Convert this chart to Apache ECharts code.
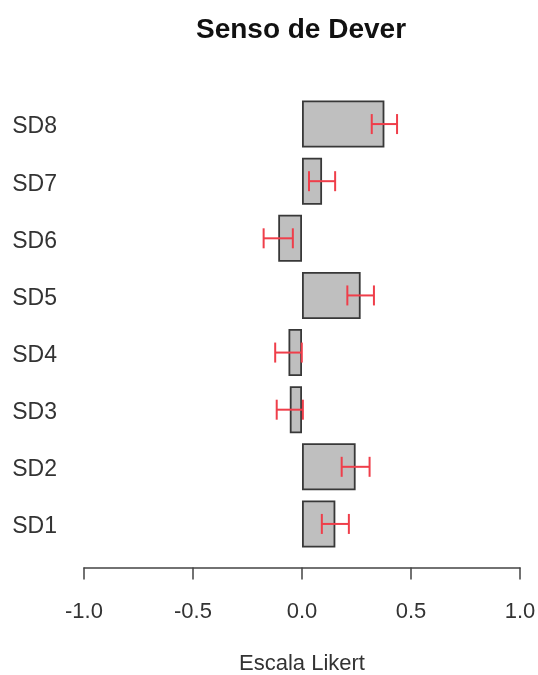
<!DOCTYPE html>
<html>
<head>
<meta charset="utf-8">
<title>Senso de Dever</title>
<script src="https://cdn.jsdelivr.net/npm/echarts@6/dist/echarts.min.js"></script>
<style>
  html, body { margin: 0; padding: 0; background: #ffffff; }
  #chart { width: 538px; height: 675px; }
</style>
</head>
<body>
<div id="chart"></div>
<script>
// Items, listed from bottom to top of the plot
const categories = ['SD1', 'SD2', 'SD3', 'SD4', 'SD5', 'SD6', 'SD7', 'SD8'];
// Mean score per item (Likert scale)
const means = [0.153, 0.246, -0.056, -0.062, 0.269, -0.109, 0.092, 0.378];
// Half-width of the error bar for each item
const errors = [0.062, 0.064, 0.060, 0.061, 0.061, 0.067, 0.060, 0.058];
// X axis tick values
const xTicks = [-1.0, -0.5, 0.0, 0.5, 1.0];

const errorData = categories.map((c, i) => [means[i], i, errors[i]]);

const chart = echarts.init(document.getElementById('chart'), null, { renderer: 'canvas' });

chart.setOption({
  animation: false,
  backgroundColor: '#ffffff',
  title: {
    text: 'Senso de Dever',
    left: 296,
    textAlign: 'center',
    top: 11,
    textStyle: {
      fontFamily: 'Liberation Sans, Arial, sans-serif',
      fontWeight: 'bold',
      fontSize: 28,
      color: '#111111'
    }
  },
  grid: {
    left: 84,
    right: 18,
    top: 95.5,
    height: 457,
    containLabel: false,
    outerBoundsMode: 'none'
  },
  xAxis: {
    type: 'value',
    min: xTicks[0],
    max: xTicks[xTicks.length - 1],
    interval: 0.5,
    offset: 15,
    name: 'Escala Likert',
    nameLocation: 'middle',
    nameGap: 85,
    nameTextStyle: {
      fontFamily: 'Liberation Sans, Arial, sans-serif',
      fontSize: 22,
      color: '#333333'
    },
    axisLine: { show: true, lineStyle: { color: '#444444', width: 1.5 } },
    axisTick: { show: true, length: 12, lineStyle: { color: '#444444', width: 1.5 } },
    splitLine: { show: false },
    axisLabel: {
      margin: 33,
      fontFamily: 'Liberation Sans, Arial, sans-serif',
      fontSize: 22,
      color: '#333333',
      formatter: v => v.toFixed(1)
    }
  },
  yAxis: {
    type: 'category',
    data: categories,
    axisLine: { show: false },
    axisTick: { show: false },
    splitLine: { show: false },
    axisLabel: {
      margin: 27,
      verticalAlign: 'top',
      lineHeight: 6,
      fontFamily: 'Liberation Sans, Arial, sans-serif',
      fontSize: 23,
      color: '#333333'
    }
  },
  series: [
    {
      type: 'bar',
      data: means,
      barWidth: 47,
      itemStyle: {
        color: '#bfbfbf',
        borderColor: '#383838',
        borderWidth: 1.8
      }
    },
    {
      type: 'custom',
      data: errorData,
      encode: { x: 0, y: 1 },
      z: 10,
      renderItem: function (params, api) {
        const m = api.value(0);
        const idx = api.value(1);
        const e = api.value(2);
        const lo = api.coord([m - e, idx]);
        const hi = api.coord([m + e, idx]);
        const cap = 10;
        const style = { stroke: '#ef3e4a', lineWidth: 2, fill: null };
        return {
          type: 'group',
          children: [
            { type: 'line', shape: { x1: lo[0], y1: lo[1], x2: hi[0], y2: hi[1] }, style: style },
            { type: 'line', shape: { x1: lo[0], y1: lo[1] - cap, x2: lo[0], y2: lo[1] + cap }, style: style },
            { type: 'line', shape: { x1: hi[0], y1: hi[1] - cap, x2: hi[0], y2: hi[1] + cap }, style: style }
          ]
        };
      }
    }
  ]
});
</script>
</body>
</html>
